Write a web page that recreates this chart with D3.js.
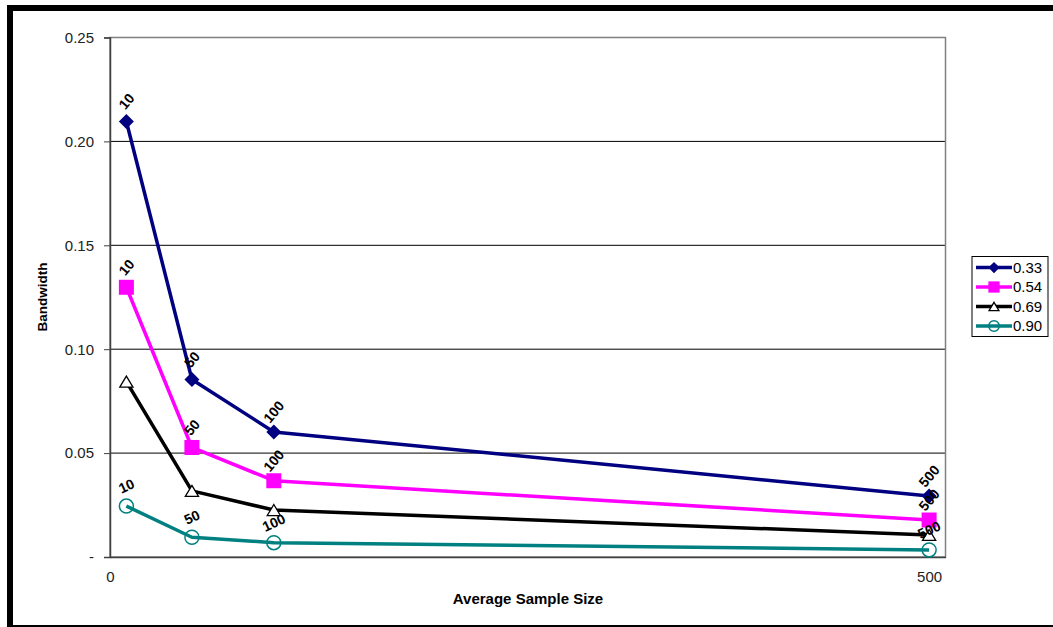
<!DOCTYPE html>
<html>
<head>
<meta charset="utf-8">
<script src="https://cdn.jsdelivr.net/npm/d3@7"></script>
<style>
  html, body { margin: 0; padding: 0; background: #fff; }
  svg { display: block; font-family: "Liberation Sans", Arial, sans-serif; }
</style>
</head>
<body>
<svg id="chart" width="1053" height="627"></svg>
<script>
// Sample sizes along the x axis
const sampleSizes = [10, 50, 100, 500];

// Bandwidth per series (one array per legend entry)
const seriesNames = ["0.33", "0.54", "0.69", "0.90"];
const bw033 = [0.2096, 0.0854, 0.0602, 0.0293];
const bw054 = [0.1298, 0.0527, 0.0367, 0.0178];
const bw069 = [0.0844, 0.0318, 0.0226, 0.0106];
const bw090 = [0.0245, 0.0095, 0.0069, 0.0034];

// Axis tick values and their labels
const yTicks = [0, 0.05, 0.10, 0.15, 0.20, 0.25];
const yTickLabels = ["-", "0.05", "0.10", "0.15", "0.20", "0.25"];
const xTicks = [0, 500];
const xTickLabels = ["0", "500"];

const series = [
  { name: seriesNames[0], values: bw033, color: "#000080", marker: "diamond", labels: true, labelAngle: -50 },
  { name: seriesNames[1], values: bw054, color: "#ff00ff", marker: "square", labels: true, labelAngle: -50 },
  { name: seriesNames[2], values: bw069, color: "#000000", marker: "triangle", labels: false, labelAngle: 0 },
  { name: seriesNames[3], values: bw090, color: "#008080", marker: "circle", labels: true, labelAngle: -25 }
];

const FONT = "'Liberation Sans', Arial, sans-serif";
const svg = d3.select("#chart");

// outer frame
svg.append("rect").attr("x", 7).attr("y", 5).attr("width", 1046).attr("height", 6).attr("fill", "#000");
svg.append("rect").attr("x", 7).attr("y", 5).attr("width", 6).attr("height", 622).attr("fill", "#000");
svg.append("rect").attr("x", 7).attr("y", 625).attr("width", 1046).attr("height", 2).attr("fill", "#000");

const plot = { left: 110, right: 945.5, top: 37.5, bottom: 557 };

const x = d3.scaleLinear().domain([0, 510]).range([plot.left, plot.right]);
const y = d3.scaleLinear().domain([0, 0.25]).range([plot.bottom, plot.top]);

// horizontal gridlines
svg.append("g")
  .selectAll("line")
  .data(yTicks.filter(t => t > 0 && t < 0.25))
  .join("line")
  .attr("x1", plot.left).attr("x2", plot.right)
  .attr("y1", d => y(d)).attr("y2", d => y(d))
  .attr("stroke", "#000").attr("stroke-width", 1);

// plot area border
svg.append("rect")
  .attr("x", plot.left).attr("y", plot.top)
  .attr("width", plot.right - plot.left).attr("height", plot.bottom - plot.top)
  .attr("fill", "none").attr("stroke", "#808080").attr("stroke-width", 1.5);

// y axis
const yAxis = d3.axisLeft(y)
  .tickValues(yTicks)
  .tickSize(6)
  .tickPadding(10)
  .tickFormat((d, i) => yTickLabels[i]);
const gy = svg.append("g").attr("transform", `translate(${plot.left},0)`).call(yAxis);
gy.attr("font-size", null).attr("font-family", null);
gy.select(".domain").attr("stroke", "#404040").attr("stroke-width", 1.5);
gy.selectAll(".tick line").attr("stroke", "#404040");
gy.selectAll(".tick text").style("font-size", "15px").attr("fill", "#222").style("font-family", FONT);

// x axis
const xAxis = d3.axisBottom(x)
  .tickValues(xTicks)
  .tickSize(0)
  .tickPadding(14)
  .tickFormat((d, i) => xTickLabels[i]);
const gx = svg.append("g").attr("transform", `translate(0,${plot.bottom})`).call(xAxis);
gx.attr("font-size", null).attr("font-family", null);
gx.select(".domain").attr("stroke", "#404040").attr("stroke-width", 1.5);
gx.selectAll(".tick text").style("font-size", "15px").attr("fill", "#222").style("font-family", FONT);

// axis titles
svg.append("text")
  .attr("x", 528).attr("y", 604)
  .attr("text-anchor", "middle")
  .style("font-size", "15px").attr("font-weight", "bold")
  .text("Average Sample Size");
svg.append("text")
  .attr("transform", "translate(47,297) rotate(-90)")
  .attr("text-anchor", "middle")
  .style("font-size", "13.5px").attr("font-weight", "bold")
  .text("Bandwidth");

// marker drawing
function drawMarker(g, type, color, cx, cy, scale) {
  const s = scale || 1;
  if (type === "diamond") {
    const r = 7.5 * s;
    g.append("path")
      .attr("d", `M${cx},${cy - r}L${cx + r},${cy}L${cx},${cy + r}L${cx - r},${cy}Z`)
      .attr("fill", color);
  } else if (type === "square") {
    const h = 7.5 * s;
    g.append("rect").attr("x", cx - h).attr("y", cy - h)
      .attr("width", 2 * h).attr("height", 2 * h).attr("fill", color);
  } else if (type === "triangle") {
    const h = 5.5 * s;
    g.append("path")
      .attr("d", `M${cx},${cy - h}L${cx + h * 1.2},${cy + h}L${cx - h * 1.2},${cy + h}Z`)
      .attr("fill", "#fff").attr("stroke", color).attr("stroke-width", 1.3);
  } else if (type === "circle") {
    g.append("circle").attr("cx", cx).attr("cy", cy).attr("r", 7 * s)
      .attr("fill", "none").attr("stroke", color).attr("stroke-width", 1.5);
  }
}

const line = d3.line().x(d => x(d[0])).y(d => y(d[1]));

series.forEach(s => {
  const g = svg.append("g");
  const pts = sampleSizes.map((n, i) => [n, s.values[i]]);
  g.append("path")
    .attr("d", line(pts))
    .attr("fill", "none")
    .attr("stroke", s.color)
    .attr("stroke-width", 3.5)
    .attr("stroke-linejoin", "round");
  pts.forEach(p => drawMarker(g, s.marker, s.color, x(p[0]), y(p[1])));
});

// data labels (sample size written above each point)
series.forEach(s => {
  if (!s.labels) return;
  sampleSizes.forEach((n, i) => {
    const cx = x(n), cy = y(s.values[i]) - 20;
    svg.append("text")
      .attr("transform", `translate(${cx},${cy}) rotate(${s.labelAngle})`)
      .attr("text-anchor", "middle")
      .attr("dy", "0.35em")
      .style("font-size", "14px").attr("font-weight", "bold")
      .attr("fill", "#000")
      .text(n);
  });
});

// legend
const legend = svg.append("g");
legend.append("rect")
  .attr("x", 972).attr("y", 256.5).attr("width", 76).attr("height", 80)
  .attr("fill", "#fff").attr("stroke", "#000").attr("stroke-width", 1);
series.forEach((s, i) => {
  const ly = 267.5 + i * 19.5;
  legend.append("line")
    .attr("x1", 976).attr("x2", 1012).attr("y1", ly).attr("y2", ly)
    .attr("stroke", s.color).attr("stroke-width", 3.5);
  drawMarker(legend, s.marker, s.color, 994, ly, 0.75);
  legend.append("text")
    .attr("x", 1013).attr("y", ly).attr("dy", "0.36em")
    .style("font-size", "15px").attr("fill", "#000")
    .text(s.name);
});
</script>
</body>
</html>
